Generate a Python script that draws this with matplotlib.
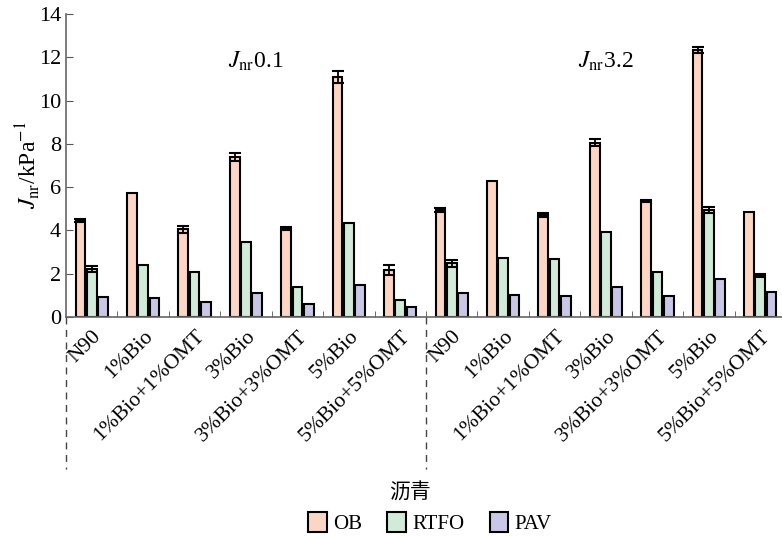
import matplotlib

matplotlib.use("Agg")
import matplotlib.pyplot as plt
import numpy as np
from matplotlib.patches import Patch

plt.rcParams["font.family"] = ["Liberation Serif", "Noto Sans CJK SC"]
plt.rcParams["mathtext.fontset"] = "stix"

binders = ["N90", "1%Bio", "1%Bio+1%OMT", "3%Bio", "3%Bio+3%OMT",
           "5%Bio", "5%Bio+5%OMT"]
labels = binders + binders

# Jnr0.1 groups followed by Jnr3.2 groups
ob = [4.47, 5.74, 4.05, 7.38, 4.10, 11.07, 2.17,
      4.94, 6.28, 4.71, 8.06, 5.36, 12.34, 4.87]
rtfo = [2.22, 2.40, 2.09, 3.46, 1.37, 4.33, 0.78,
        2.48, 2.74, 2.67, 3.92, 2.08, 4.94, 1.91]
pav = [0.94, 0.89, 0.67, 1.09, 0.60, 1.48, 0.45,
       1.09, 1.02, 0.98, 1.40, 0.98, 1.74, 1.14]

ob_err = [0.08, 0.0, 0.17, 0.18, 0.08, 0.28, 0.22,
          0.10, 0.0, 0.10, 0.16, 0.06, 0.12, 0.0]
rtfo_err = [0.15, 0.0, 0.0, 0.0, 0.0, 0.0, 0.0,
            0.17, 0.0, 0.0, 0.0, 0.0, 0.12, 0.08]
pav_err = [0.0] * 14

series = [("OB", ob, ob_err, "#fdd6c3"),
          ("RTFO", rtfo, rtfo_err, "#d2ebd8"),
          ("PAV", pav, pav_err, "#c9c7e6")]

fig = plt.figure(figsize=(7.82, 5.37), dpi=100)
ax = fig.add_axes([66 / 782, 220 / 537, 720 / 782, 303 / 537])

x = np.arange(len(labels)) + 0.5
w = 0.19
step = 0.22
for i, (name, vals, errs, color) in enumerate(series):
    xs = x + (i - 1) * step
    ax.bar(xs, vals, w, color=color, edgecolor="black", linewidth=1.5,
           label=name, zorder=2)
    errs = np.array(errs)
    m = errs > 0
    ax.errorbar(xs[m], np.array(vals)[m], yerr=errs[m], fmt="none",
                ecolor="black", elinewidth=1.3, capsize=4, capthick=1.5,
                zorder=3)

ax.set_xlim(0, 14)
ax.set_ylim(0, 14)
ax.set_yticks(np.arange(0, 15, 2))
ax.set_xticks(x)
ax.set_xticklabels(labels, rotation=45, ha="right", rotation_mode="anchor",
                   fontsize=15.5)
ax.set_xticks(np.arange(1, 14), minor=True)
ax.tick_params(axis="x", which="major", length=0, pad=7)
ax.tick_params(axis="x", which="minor", direction="in", length=4,
               color="#555555")
ax.tick_params(axis="y", direction="in", length=5, labelsize=16,
               color="#555555")
for s in ("top", "right"):
    ax.spines[s].set_visible(False)
for s in ("left", "bottom"):
    ax.spines[s].set_color("#666666")
    ax.spines[s].set_linewidth(1.2)

ax.set_ylabel(r"$J_{\rm nr}$/kPa$^{-1}$", fontsize=17, labelpad=-2)

ax.text(3.7, 11.5, r"$J_{\rm nr}$0.1", fontsize=17, ha="center")
ax.text(10.5, 11.5, r"$J_{\rm nr}$3.2", fontsize=17, ha="center")

# dashed separators for the two stress levels
for xv in (0, 7):
    ax.plot([xv, xv], [0, -7.0], color="#444444", linewidth=1.0,
            linestyle=(0, (5, 4)), clip_on=False)

fig.text(0.524, 0.082, "沥青", ha="center", va="center", fontsize=15,
         family=["Noto Sans CJK SC"])

handles = [Patch(facecolor=c, edgecolor="black", linewidth=1.5, label=n)
           for n, _, _, c in series]
fig.legend(handles=handles, loc="center", bbox_to_anchor=(0.55, 0.026),
           ncol=3, frameon=False, fontsize=15, handlelength=0.9,
           handleheight=1.1, handletextpad=0.3, columnspacing=1.2)

fig.savefig("out.png", dpi=100)
